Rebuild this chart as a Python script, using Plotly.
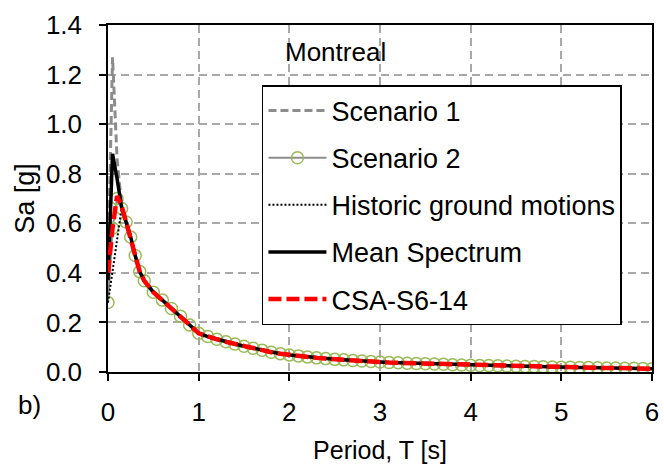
import plotly.graph_objects as go

# Periods (s)
period = [0, 0.05, 0.1, 0.15, 0.2, 0.25, 0.3, 0.35, 0.4, 0.5, 0.6, 0.7, 0.8, 0.9,
          1.0, 1.1, 1.2, 1.3, 1.4, 1.5, 1.6, 1.7, 1.8, 1.9,
          2.0, 2.1, 2.2, 2.3, 2.4, 2.5, 2.6, 2.7, 2.8, 2.9,
          3.0, 3.1, 3.2, 3.3, 3.4, 3.5, 3.6, 3.7, 3.8, 3.9,
          4.0, 4.1, 4.2, 4.3, 4.4, 4.5, 4.6, 4.7, 4.8, 4.9,
          5.0, 5.1, 5.2, 5.3, 5.4, 5.5, 5.6, 5.7, 5.8, 5.9, 6.0]

# Shared long-period part (T >= 0.2 s), where all spectra nearly coincide
tail_sa = [0.605, 0.545, 0.47, 0.405, 0.368, 0.322, 0.29, 0.256, 0.225, 0.19,
           0.156, 0.143, 0.132, 0.122, 0.113, 0.104, 0.096, 0.088, 0.080, 0.074,
           0.069, 0.065, 0.061, 0.057, 0.054, 0.051, 0.049, 0.046, 0.044, 0.042,
           0.040, 0.038, 0.037, 0.035, 0.034, 0.033, 0.032, 0.031, 0.029, 0.028,
           0.027, 0.026, 0.026, 0.025, 0.024, 0.023, 0.022, 0.022, 0.021, 0.020,
           0.019, 0.019, 0.018, 0.018, 0.017, 0.016, 0.016, 0.015, 0.015, 0.014, 0.013]

# Short-period part (T = 0, 0.05, 0.1, 0.15)
scenario1_head = [0.42, 1.27, 0.86, 0.67]
scenario2_head = [0.28, 0.58, 0.70, 0.66]
historic_head = [0.28, 0.40, 0.54, 0.66]
mean_head = [0.37, 0.88, 0.78, 0.665]
csa_head = [0.40, 0.58, 0.71, 0.67]

scenario1 = scenario1_head + tail_sa
scenario2 = scenario2_head + tail_sa
historic = historic_head + tail_sa
mean_spec = mean_head + tail_sa
csa = csa_head + tail_sa

x_ticks = [0, 1, 2, 3, 4, 5, 6]
y_ticks = [0.0, 0.2, 0.4, 0.6, 0.8, 1.0, 1.2, 1.4]

FONT = "Liberation Sans, Arial, sans-serif"

fig = go.Figure()

fig.add_trace(go.Scatter(
    x=period, y=scenario2, name="Scenario 2", mode="lines+markers",
    line=dict(color="#8c8c8c", width=2),
    marker=dict(symbol="circle-open", size=12, color="#9bbb59", line=dict(width=1.5)),
    legendrank=2, legendgroup="g2"))
fig.add_trace(go.Scatter(
    x=period, y=scenario1, name="Scenario 1", mode="lines",
    line=dict(color="#8c8c8c", width=3, dash="8px,4px"),
    legendrank=1, legendgroup="g1"))
fig.add_trace(go.Scatter(
    x=period, y=historic, name="Historic ground motions", mode="lines",
    line=dict(color="black", width=2, dash="2px,2px"),
    legendrank=3, legendgroup="g3"))
fig.add_trace(go.Scatter(
    x=period, y=mean_spec, name="Mean Spectrum", mode="lines",
    line=dict(color="black", width=3.5),
    legendrank=4, legendgroup="g4"))
fig.add_trace(go.Scatter(
    x=period, y=csa, name="CSA-S6-14", mode="lines",
    line=dict(color="#ff0000", width=4.5, dash="13px,5px"),
    legendrank=5, legendgroup="g5"))

fig.update_layout(
    width=664, height=466,
    margin=dict(l=108, r=12, t=25, b=94),
    paper_bgcolor="white", plot_bgcolor="white",
    font=dict(family=FONT, size=26, color="black"),
    showlegend=True,
    legend=dict(x=0.283, y=0.827, xanchor="left", yanchor="top",
                bgcolor="white", bordercolor="black", borderwidth=1.5,
                font=dict(size=27), traceorder="grouped", tracegroupgap=9,
                itemwidth=58),
    xaxis=dict(range=[0, 6], tickvals=x_ticks, ticktext=[str(v) for v in x_ticks],
               showgrid=True, gridcolor="#a8a8a8", gridwidth=1.5, griddash="8px,5px",
               showline=True, linecolor="black", linewidth=1.5, mirror=True,
               ticks="outside", ticklen=7, tickwidth=1.5, tickcolor="black",
               zeroline=False, ticklabelstandoff=9, automargin=False,
               title=dict(text="Period, T [s]", font=dict(size=25), standoff=16)),
    yaxis=dict(range=[0, 1.4], tickvals=y_ticks, ticktext=["%.1f" % v for v in y_ticks],
               showgrid=True, gridcolor="#a8a8a8", gridwidth=1.5, griddash="8px,5px",
               showline=True, linecolor="black", linewidth=1.5, mirror=True,
               ticks="outside", ticklen=7, tickwidth=1.5, tickcolor="black",
               zeroline=False, ticklabelstandoff=12, automargin=False,
               title=dict(text="Sa [g]", font=dict(size=27), standoff=3)),
    annotations=[
        dict(text="Montreal", x=0.419, y=0.922, xref="paper", yref="paper",
             xanchor="center", yanchor="middle",
             showarrow=False, font=dict(size=26)),
        dict(text="b)", x=-0.145, y=-0.095, xref="paper", yref="paper",
             xanchor="center", yanchor="middle",
             showarrow=False, font=dict(size=26)),
    ],
)

fig.write_html("out.html")
